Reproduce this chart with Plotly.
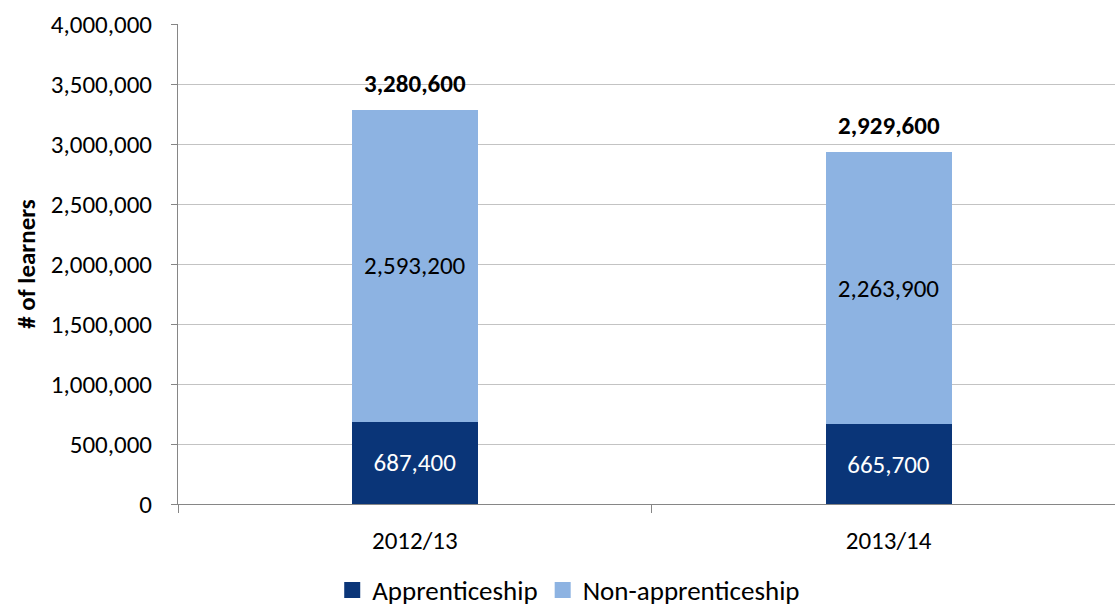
import plotly.graph_objects as go

years = ["2012/13", "2013/14"]
apprenticeship = [687400, 665700]
non_apprenticeship = [2593200, 2263900]
totals = [3280600, 2929600]

FONT = "Carlito, Calibri, 'Liberation Sans', sans-serif"
FS = 25
DARK = "#0a3578"
LIGHT = "#8db3e2"

fig = go.Figure()
series = [("Apprenticeship", apprenticeship, DARK, "white"),
          ("Non-apprenticeship", non_apprenticeship, LIGHT, "black")]
for name, vals, col, tcol in series:
    fig.add_trace(go.Bar(
        x=years, y=vals, name=name, showlegend=False,
        marker=dict(color=col, line=dict(width=0)),
        text=[f"{v:,}" for v in vals],
        textposition="inside", insidetextanchor="middle",
        textfont=dict(color=tcol, size=FS, family=FONT),
        width=0.266,
    ))

# legend entries with larger square swatches
for name, vals, col, tcol in series:
    fig.add_trace(go.Scatter(
        x=[None], y=[None], mode="markers", name=name,
        marker=dict(symbol="square", size=17, color=col),
    ))

for yr, tot in zip(years, totals):
    fig.add_annotation(
        x=yr, y=tot, text=f"<b>{tot:,}</b>", showarrow=False,
        yanchor="bottom", yshift=9,
        font=dict(size=FS, color="black", family=FONT),
    )

fig.update_layout(
    barmode="stack",
    width=1115, height=608,
    margin=dict(l=178, r=0, t=24, b=104, autoexpand=False),
    paper_bgcolor="white", plot_bgcolor="white",
    font=dict(family=FONT, size=FS, color="black"),
    uniformtext=dict(mode="show", minsize=10),
    showlegend=True,
    legend=dict(
        orientation="h", x=0.417, xanchor="center", y=-0.18, yanchor="middle",
        font=dict(size=27, family=FONT), itemsizing="trace",
        traceorder="normal", itemwidth=30, tracegroupgap=0,
    ),
    xaxis=dict(
        range=[-0.5, 1.478], showgrid=False,
        showline=True, linecolor="#868686", linewidth=1,
        ticks="outside", tickson="boundaries", ticklen=8, tickcolor="#868686",
        tickfont=dict(size=FS, family=FONT),
        ticklabelstandoff=14,
    ),
    yaxis=dict(
        range=[0, 4000000], dtick=500000, tickformat=",d",
        showgrid=True, gridcolor="#c3c3c3", gridwidth=1,
        showline=True, linecolor="#868686", linewidth=1,
        ticks="outside", ticklen=6, tickcolor="#868686",
        tickfont=dict(size=FS, family=FONT),
        ticklabelstandoff=14,
        title=dict(text="<b># of learners</b>", font=dict(size=FS, family=FONT), standoff=8),
        zeroline=False,
    ),
)

fig.write_html("out.html")
